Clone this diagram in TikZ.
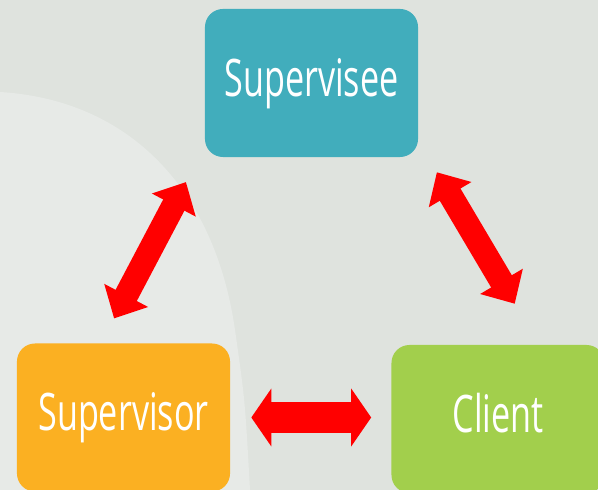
\documentclass[tikz,border=0pt]{standalone}
\usepackage{fontspec}
\newfontfamily\boxfont[FakeStretch=0.66]{Open Sans}
\usetikzlibrary{calc,arrows.meta}
\definecolor{bgdark}{HTML}{DFE3DE}
\definecolor{bglight}{HTML}{E7EAE7}
\definecolor{teal}{HTML}{41ADBC}
\definecolor{amber}{HTML}{FBB022}
\definecolor{lime}{HTML}{A2CF4C}
\begin{document}
\begin{tikzpicture}[x=0.025cm,y=-0.025cm,
        rolebox/.style={rounded corners=0.45cm,minimum width=5.325cm,minimum height=3.7cm,
            inner sep=0pt,text height=0.66cm,text depth=0pt,text=white,
            font=\boxfont\fontsize{36.8}{40}\selectfont},
        diaglink/.style={draw=red,line width=0.6cm,
            arrows={Triangle[width=1.2cm,length=0.65cm]-Triangle[width=1.2cm,length=0.65cm]}},
        flatlink/.style={draw=red,line width=0.75cm,
            arrows={Triangle[width=1.425cm,length=0.5cm]-Triangle[width=1.425cm,length=0.5cm]}}]
        \useasboundingbox (0,0) rectangle (598,490);
        % background
        \fill[bgdark] (0,0) rectangle (598,490);
        \fill[bglight] (0,92) .. controls (130,100) and (215,190) .. (235,330)
            .. controls (245,400) .. (250,490) -- (0,490) -- cycle;
        % the three roles
        \node[rolebox,fill=teal] (supervisee) at (311.5,83) {Supervisee};
        \node[rolebox,fill=amber] (supervisor) at (123.5,417.5) {Supervisor};
        \node[rolebox,fill=lime] (client) at (498,419) {Client};
        % links
        \draw[diaglink,shorten <=0.7cm,shorten >=0.7cm]
            ($(supervisor.north)+(-22.5,0)$) -- ($(supervisee.south)+(-112.5,0)$);
        \draw[diaglink,shorten <=0.435cm,shorten >=1.19cm]
            ($(supervisee.south)+(116.5,0)$) -- ($(client.north)+(41,0)$);
        \draw[flatlink,shorten <=0.525cm,shorten >=0.5cm]
            (supervisor.east) -- (supervisor.east -| client.west);
    \end{tikzpicture}
\end{document}
